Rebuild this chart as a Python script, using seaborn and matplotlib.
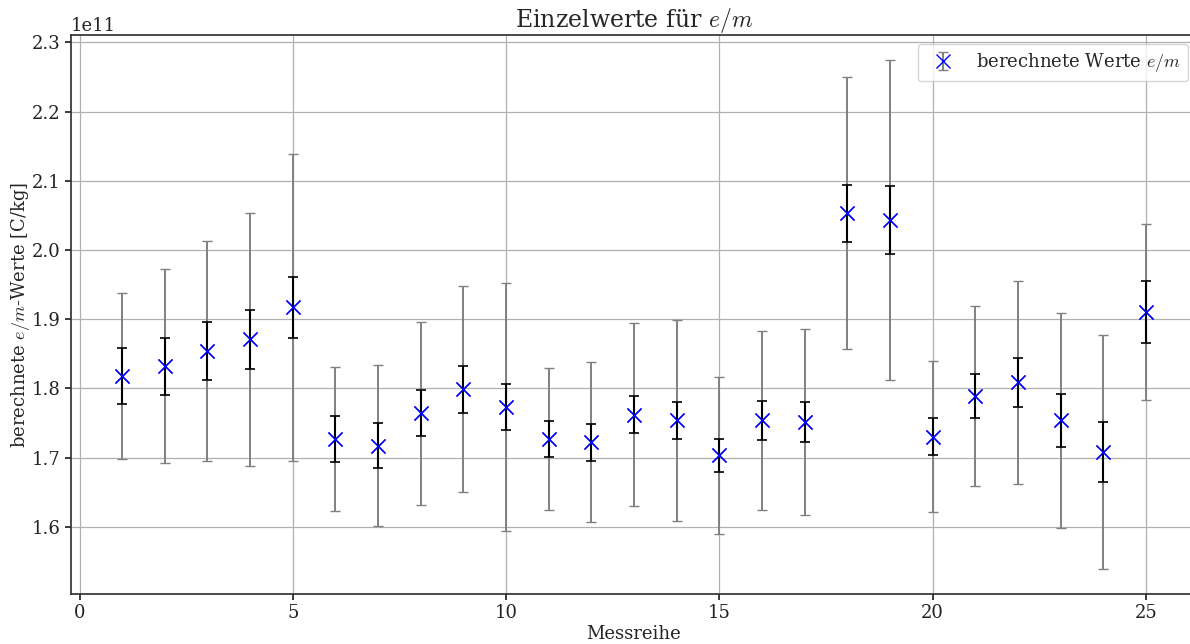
import numpy as np
import pandas as pd
import matplotlib
matplotlib.use("Agg")
import matplotlib.pyplot as plt
import seaborn as sns

# Data (values in C/kg)
messreihe = list(range(1, 26))
em_values = [1.818, 1.832, 1.854, 1.871, 1.917, 1.727, 1.717, 1.764, 1.799, 1.773,
             1.727, 1.722, 1.762, 1.754, 1.703, 1.754, 1.751, 2.053, 2.043, 1.730,
             1.789, 1.809, 1.754, 1.708, 1.910]
err_small = [0.041, 0.041, 0.0415, 0.0425, 0.0435, 0.033, 0.0325, 0.033, 0.034, 0.0335,
             0.0265, 0.0265, 0.027, 0.027, 0.0245, 0.028, 0.029, 0.041, 0.0495, 0.0265,
             0.0315, 0.0355, 0.0385, 0.0435, 0.045]
err_large = [0.1195, 0.140, 0.1595, 0.1825, 0.2215, 0.104, 0.1165, 0.132, 0.1485, 0.1795,
             0.1025, 0.1155, 0.1325, 0.145, 0.1135, 0.1295, 0.1345, 0.1965, 0.231, 0.109,
             0.1295, 0.1465, 0.1555, 0.1685, 0.1275]
scale = 1e11

df = pd.DataFrame({
    "Messreihe": messreihe,
    "em": np.array(em_values) * scale,
    "err_small": np.array(err_small) * scale,
    "err_large": np.array(err_large) * scale,
})

sns.set_theme(style="ticks")
plt.rcParams["font.family"] = ["DejaVu Serif"]
plt.rcParams["mathtext.fontset"] = "cm"
plt.rcParams["axes.edgecolor"] = "#333333"
plt.rcParams["xtick.color"] = "#222222"
plt.rcParams["ytick.color"] = "#222222"

fig = plt.figure(figsize=(11.9, 6.44), dpi=100)
ax = fig.add_axes([71 / 1190, 1 - 594 / 644, (1197 - 71) / 1190, (594 - 35) / 644])

ax.grid(True, color="#b0b0b0", linewidth=0.9)
ax.set_axisbelow(True)

ax.errorbar(df["Messreihe"], df["em"], yerr=df["err_large"], fmt="x",
            color="blue", markersize=10, markeredgewidth=1.0,
            ecolor="grey", elinewidth=1.4, capsize=3.3, capthick=1.2,
            label=r"berechnete Werte $e/m$", zorder=2)
ax.errorbar(df["Messreihe"], df["em"], yerr=df["err_small"], fmt="none",
            ecolor="black", elinewidth=1.5, capsize=3.3, capthick=1.2, zorder=3)
sns.scatterplot(data=df, x="Messreihe", y="em", marker="x", color="blue",
                s=100, linewidth=1.0, ax=ax, zorder=4, legend=False)

ax.set_xlim(-0.2, 26.2)
ax.set_ylim(1.5028e11, 2.3107e11)
ax.set_xticks([0, 5, 10, 15, 20, 25])
ax.set_yticks(np.arange(1.6, 2.31, 0.1) * scale)

ax.set_title(r"Einzelwerte für $e/m$", fontsize=17, pad=6)
ax.set_xlabel("Messreihe", fontsize=13, labelpad=2)
ax.set_ylabel(r"berechnete $e/m$-Werte [C/kg]", fontsize=13, labelpad=0)
ax.tick_params(labelsize=13, direction="out", length=4)
ax.yaxis.get_offset_text().set_fontsize(13)

ax.legend(loc="upper right", fontsize=13, frameon=True, framealpha=0.8,
          edgecolor="#cccccc")

sns.despine(ax=ax, top=False, right=False)
fig.savefig("out.png", dpi=100)
